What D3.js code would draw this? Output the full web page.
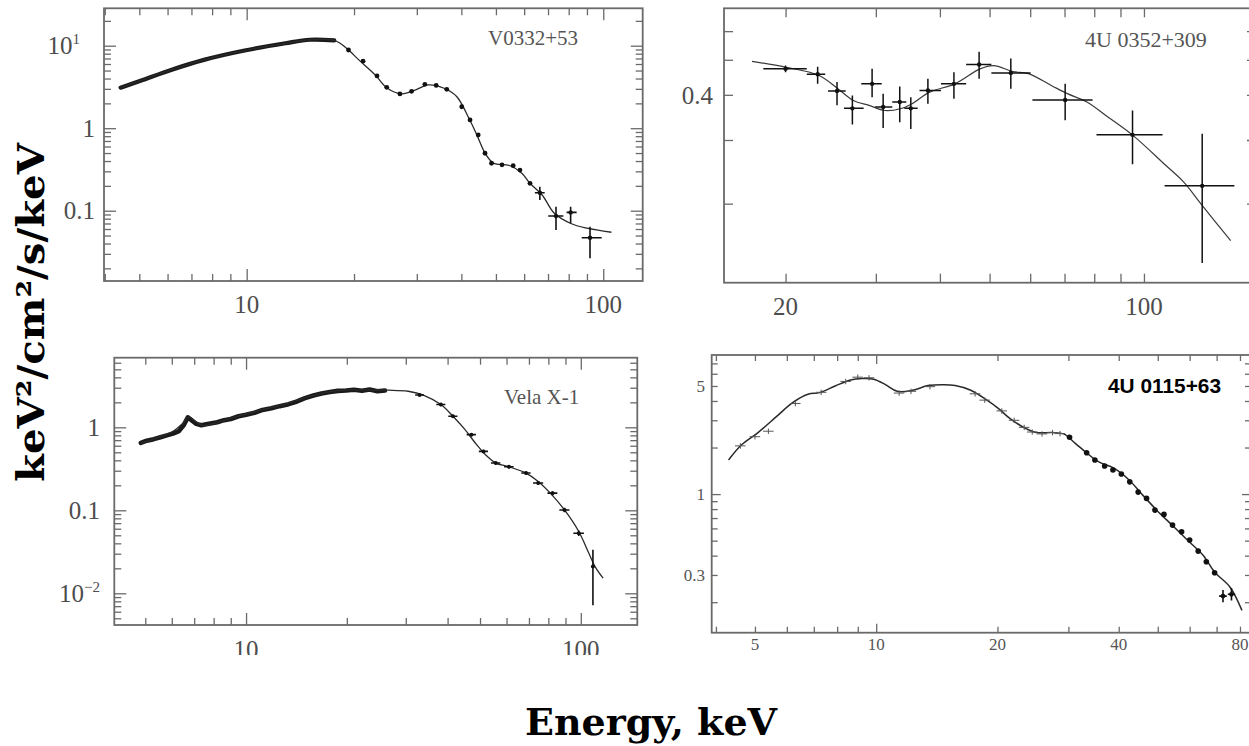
<!DOCTYPE html>
<html><head><meta charset="utf-8">
<script src="https://cdn.jsdelivr.net/npm/d3@7"></script>
<style>body{margin:0;background:#fff;} svg{display:block;}</style>
</head><body><svg id="c" width="1249" height="746"></svg>
<script>
// ---------------- DATA ----------------
// Panel 1: V0332+53
const v0332ModelE = [4.43, 5.11, 6.14, 7.59, 9.87, 12.84, 15.04, 17.61, 19.05, 20.63, 22.92, 24.8, 27.2, 29.8, 32.3, 35.8, 38.8, 42.0, 44.2, 46.6, 49.2, 54.6, 59.1, 62.3, 67.4, 72.9, 81.1, 90.0, 105.4];
const v0332ModelF = [3.1, 3.85, 5.09, 6.73, 8.73, 10.7, 11.8, 11.6, 9.33, 6.73, 4.43, 3.05, 2.61, 2.92, 3.35, 3.05, 2.42, 1.32, 0.83, 0.50, 0.377, 0.353, 0.285, 0.215, 0.155, 0.093, 0.070, 0.0614, 0.0548];
const v0332BandE = [4.43, 5.11, 6.14, 7.59, 9.87, 12.84, 15.04, 17.6];
const v0332BandF = [3.1, 3.85, 5.09, 6.73, 8.73, 10.7, 11.8, 11.6];
const v0332DotE = [19.3, 21.2, 23.2, 24.7, 26.9, 29.0, 31.6, 34.0, 36.4, 40.1, 42.3, 44.6, 46.6, 48.6, 52.0, 55.9, 58.4, 62.3];
const v0332DotF = [8.87, 6.5, 4.3, 3.13, 2.6, 2.8, 3.4, 3.3, 2.96, 1.82, 1.26, 0.83, 0.497, 0.376, 0.36, 0.351, 0.311, 0.215];
const v0332ErrE = [66.4, 73.7, 81.0, 91.8];
const v0332ErrF = [0.165, 0.0863, 0.0954, 0.0471];
const v0332ErrELo = [64.3, 70.1, 78.9, 87.0];
const v0332ErrEHi = [68.5, 77.3, 84.2, 99.0];
const v0332ErrFLo = [0.135, 0.0583, 0.0703, 0.0265];
const v0332ErrFHi = [0.195, 0.112, 0.112, 0.064];

// Panel 2: 4U 0352+309
const u0352ModelE = [17.2, 20, 23.2, 25.3, 27.1, 29.1, 31.2, 33.5, 35.3, 38.2, 42.8, 47.9, 50.9, 55.5, 59.5, 66.1, 70.9, 77.4, 84.4, 95.4, 109.7, 119.7, 129.4, 147.6];
const u0352ModelF = [0.495, 0.477, 0.453, 0.416, 0.386, 0.374, 0.362, 0.366, 0.378, 0.407, 0.429, 0.472, 0.482, 0.464, 0.458, 0.424, 0.403, 0.382, 0.350, 0.308, 0.257, 0.229, 0.199, 0.158];
const u0352ErrE = [20, 23.1, 25.2, 27.0, 29.5, 31.0, 33.4, 35.1, 37.9, 42.6, 47.7, 55.0, 70.2, 95.0, 129.9];
const u0352ErrF = [0.472, 0.456, 0.41, 0.367, 0.429, 0.370, 0.382, 0.367, 0.411, 0.429, 0.485, 0.460, 0.387, 0.310, 0.224];
const u0352ErrELo = [18.1, 22.0, 24.2, 26.0, 28.1, 29.9, 32.3, 34.1, 36.5, 40.2, 45.0, 50.4, 60.6, 80.8, 109.7];
const u0352ErrEHi = [22.0, 23.9, 26.2, 28.4, 30.8, 32.3, 34.4, 36.2, 40.2, 45.0, 50.4, 60.1, 79.4, 108.7, 150.1];
const u0352ErrFLo = [0.462, 0.429, 0.374, 0.331, 0.394, 0.324, 0.336, 0.322, 0.378, 0.390, 0.443, 0.416, 0.340, 0.257, 0.137];
const u0352ErrFHi = [0.482, 0.478, 0.434, 0.398, 0.472, 0.403, 0.422, 0.394, 0.443, 0.462, 0.526, 0.504, 0.429, 0.362, 0.312];

// Panel 3: Vela X-1
const velaModelE = [4.84, 5.41, 6.05, 6.49, 6.77, 7.06, 7.46, 8.23, 9.46, 11.18, 13.22, 15.2, 17.5, 20.1, 23.1, 26.6, 30.5, 34.1, 38.2, 41.5, 45.1, 48.4, 51.9, 55.7, 60.5, 68.6, 74.6, 81.1, 89.4, 98.6, 105.7, 110.3, 116.6];
const velaModelF = [0.647, 0.743, 0.895, 1.13, 1.33, 1.18, 1.05, 1.15, 1.36, 1.62, 1.92, 2.3, 2.65, 2.82, 2.80, 2.80, 2.72, 2.41, 1.88, 1.36, 0.937, 0.647, 0.468, 0.371, 0.338, 0.281, 0.223, 0.161, 0.101, 0.0555, 0.0304, 0.021, 0.0152];
const velaBandE = [4.85, 5.05, 5.3, 5.55, 5.8, 6.05, 6.3, 6.5, 6.7, 6.9, 7.1, 7.35, 7.6, 7.9, 8.2, 8.6, 9.0, 9.5, 10.0, 10.6, 11.2, 11.9, 12.6, 13.4, 14.2, 15.0, 15.9, 16.8, 17.8, 18.8, 19.9, 21.0, 22.2, 23.4, 24.7, 26.0];
const velaBandF = [0.65, 0.69, 0.72, 0.76, 0.80, 0.84, 0.90, 1.05, 1.32, 1.20, 1.10, 1.06, 1.09, 1.12, 1.15, 1.22, 1.26, 1.36, 1.42, 1.50, 1.62, 1.70, 1.80, 1.90, 2.05, 2.25, 2.42, 2.55, 2.66, 2.75, 2.78, 2.84, 2.76, 2.85, 2.72, 2.78];
const velaErrE = [33.0, 38.2, 41.5, 47.1, 51.2, 55.7, 61.0, 68.6, 74.6, 82.3, 89.4, 98.6, 108.7];
const velaErrF = [2.45, 1.88, 1.36, 0.816, 0.513, 0.371, 0.335, 0.281, 0.213, 0.161, 0.101, 0.053, 0.021];
const velaErrELo = [32.0, 37.0, 40.2, 45.6, 49.6, 53.9, 59.0, 66.4, 72.0, 79.5, 86.3, 95.0, 107.8];
const velaErrEHi = [34.0, 39.4, 42.8, 48.6, 52.8, 57.5, 63.0, 70.8, 77.2, 85.1, 92.5, 102.2, 109.6];
const velaErrFLo = [2.38, 1.80, 1.30, 0.78, 0.49, 0.355, 0.32, 0.268, 0.202, 0.152, 0.095, 0.049, 0.0072];
const velaErrFHi = [2.52, 1.96, 1.42, 0.85, 0.535, 0.388, 0.35, 0.294, 0.224, 0.170, 0.107, 0.057, 0.0334];

// Panel 4: 4U 0115+63
const u0115ModelE = [4.30, 4.64, 5.08, 5.67, 6.20, 6.77, 7.24, 7.91, 8.64, 9.23, 9.86, 10.54, 11.27, 12.31, 13.45, 14.70, 15.71, 17.17, 18.75, 20.05, 21.42, 23.41, 25.0, 27.32, 29.2, 31.2, 33.35, 35.6, 38.9, 42.5, 45.5, 49.7, 54.3, 59.3, 64.8, 69.2, 75.6, 80.9];
const u0115ModelF = [1.663, 2.09, 2.49, 3.19, 3.90, 4.42, 4.53, 5.00, 5.47, 5.58, 5.53, 5.10, 4.62, 4.69, 5.03, 5.10, 5.03, 4.69, 4.08, 3.60, 3.10, 2.67, 2.50, 2.50, 2.45, 2.13, 1.84, 1.62, 1.47, 1.23, 1.01, 0.787, 0.629, 0.503, 0.402, 0.313, 0.250, 0.177];
const u0115DotE = [30.2, 33.3, 34.9, 36.9, 38.7, 40.6, 42.6, 44.7, 46.9, 49.2, 51.8, 54.4, 57.3, 60.0, 63.0, 66.0, 69.2];
const u0115DotF = [2.33, 1.85, 1.66, 1.52, 1.43, 1.35, 1.20, 1.03, 0.938, 0.788, 0.739, 0.630, 0.571, 0.504, 0.428, 0.365, 0.310];
const u0115FaintE = [4.6, 5.0, 5.4, 6.3, 7.3, 8.4, 9.0, 9.6, 11.4, 12.2, 13.6, 17.6, 18.6, 20.5, 22.0, 23.3, 24.4, 25.8, 27.4, 28.6];
const u0115FaintF = [2.05, 2.35, 2.55, 3.85, 4.55, 5.35, 5.7, 5.65, 4.5, 4.62, 4.95, 4.45, 4.05, 3.45, 3.0, 2.7, 2.52, 2.45, 2.5, 2.46];
const u0115ErrE = [72.6, 76.2];
const u0115ErrF = [0.219, 0.225];
const u0115ErrELo = [71.0, 74.6];
const u0115ErrEHi = [74.2, 77.8];
const u0115ErrFLo = [0.200, 0.205];
const u0115ErrFHi = [0.240, 0.247];

// Tick labels
const p1XTicks = [10, 100], p1XText = ["10", "100"];
const p1YTicks = [10, 1, 0.1], p1YText = ["10", "1", "0.1"], p1YSup = ["1", "", ""];
const p2XTicks = [20, 100], p2XText = ["20", "100"];
const p2YTicks = [0.4], p2YText = ["0.4"], p2YSup = [""];
const p3XTicks = [10, 100], p3XText = ["10", "100"];
const p3YTicks = [1, 0.1, 0.01], p3YText = ["1", "0.1", "10"], p3YSup = ["", "", "\u22122"];
const p4XTicks = [5, 10, 20, 40, 80], p4XText = ["5", "10", "20", "40", "80"];
const p4YTicks = [5, 1, 0.3], p4YText = ["5", "1", "0.3"], p4YSup = ["", "", ""];

// ---------------- DRAWING ----------------
const svg = d3.select('#c');
const zip = (a, b) => a.map((v, i) => ({e: v, f: b[i]}));
const errs = (e, f, el, eh, fl, fh) => e.map((v, i) => ({e: v, f: f[i], el: el[i], eh: eh[i], fl: fl[i], fh: fh[i]}));

function logTicks(dom) {
  const out = [];
  for (let p = Math.floor(Math.log10(dom[0])) - 1; p <= Math.ceil(Math.log10(dom[1])); p++) {
    for (let k = 1; k <= 9; k++) {
      const v = +(k * Math.pow(10, p)).toPrecision(6);
      if (v > dom[0] * 1.001 && v < dom[1] / 1.001) out.push({v, major: k === 1});
    }
  }
  return out;
}

let clipId = 0;
function panel(cfg) {
  const x = d3.scaleLog().domain(cfg.xDom).range([cfg.l, cfg.r]);
  const y = d3.scaleLog().domain(cfg.yDom).range([cfg.b, cfg.t]);
  const g = svg.append('g');
  const id = 'clip' + (clipId++);
  svg.append('clipPath').attr('id', id).append('rect')
    .attr('x', cfg.l).attr('y', cfg.t).attr('width', cfg.r - cfg.l).attr('height', cfg.b - cfg.t);

  const xt = logTicks(cfg.xDom), yt = logTicks(cfg.yDom);
  const tickStyle = sel => { sel.select('.domain').remove(); sel.selectAll('line').attr('stroke', cfg.frameColor).attr('stroke-width', 1.3); };
  [[false, cfg.minor], [true, cfg.major]].forEach(([maj, len]) => {
    const xv = xt.filter(d => d.major === maj).map(d => d.v);
    const yv = yt.filter(d => d.major === maj).map(d => d.v);
    g.append('g').attr('transform', `translate(0,${cfg.b})`).call(d3.axisBottom(x).tickValues(xv).tickFormat('').tickSizeInner(-len).tickSizeOuter(0)).call(tickStyle);
    g.append('g').attr('transform', `translate(0,${cfg.t})`).call(d3.axisTop(x).tickValues(xv).tickFormat('').tickSizeInner(-len).tickSizeOuter(0)).call(tickStyle);
    g.append('g').attr('transform', `translate(${cfg.l},0)`).call(d3.axisLeft(y).tickValues(yv).tickFormat('').tickSizeInner(-len).tickSizeOuter(0)).call(tickStyle);
    g.append('g').attr('transform', `translate(${cfg.r},0)`).call(d3.axisRight(y).tickValues(yv).tickFormat('').tickSizeInner(-len).tickSizeOuter(0)).call(tickStyle);
  });
  g.append('rect').attr('x', cfg.l).attr('y', cfg.t).attr('width', cfg.r - cfg.l).attr('height', cfg.b - cfg.t)
    .attr('fill', 'none').attr('stroke', cfg.frameColor).attr('stroke-width', 1.8);

  const lg = g.append('g').attr('font-family', cfg.labelFont).attr('font-size', cfg.labelSize).attr('fill', cfg.labelColor);
  if (cfg.labelClip) {
    const cid = 'clip' + (clipId++);
    svg.append('clipPath').attr('id', cid).append('rect').attr('x', 0).attr('y', 0).attr('width', 1249).attr('height', cfg.labelClip);
    lg.attr('clip-path', `url(#${cid})`);
  }
  lg.selectAll('text.xl').data(cfg.xTicks.map((v, i) => ({v, t: cfg.xText[i]}))).join('text')
    .attr('class', 'xl').attr('x', d => x(d.v)).attr('y', cfg.xLabelY).attr('text-anchor', 'middle').text(d => d.t);
  const yl = lg.selectAll('text.yl').data(cfg.yTicks.map((v, i) => ({v, t: cfg.yText[i], s: cfg.ySup[i]}))).join('text')
    .attr('class', 'yl').attr('x', d => (d.s && cfg.supLabelX) ? cfg.supLabelX : cfg.yLabelX).attr('y', d => y(d.v)).attr('dy', '0.35em').attr('text-anchor', 'end');
  yl.each(function(d) {
    const t = d3.select(this);
    t.append('tspan').text(d.t);
    if (d.s) t.append('tspan').attr('dy', -cfg.labelSize * 0.42).attr('font-size', cfg.labelSize * 0.6).text(d.s);
  });

  const dg = g.append('g').attr('clip-path', `url(#${id})`);
  const line = d3.line().x(d => x(d.e)).y(d => y(d.f)).curve(d3.curveCatmullRom.alpha(0.5));
  const rough = d3.line().x(d => x(d.e)).y(d => y(d.f)).curve(d3.curveLinear);
  if (cfg.band) dg.append('path').datum(cfg.band).attr('d', cfg.bandRough ? rough : line).attr('fill', 'none')
    .attr('stroke', '#1a1a1a').attr('stroke-width', cfg.bandWidth).attr('stroke-linecap', 'round').attr('stroke-linejoin', 'round');
  dg.append('path').datum(cfg.model).attr('d', line).attr('fill', 'none').attr('stroke', cfg.lineColor).attr('stroke-width', cfg.lineWidth);
  if (cfg.faint) {
    const fg = dg.append('g').attr('stroke', '#555').attr('stroke-width', 1);
    fg.selectAll('line.fh').data(cfg.faint).join('line').attr('x1', d => x(d.e * 0.97)).attr('x2', d => x(d.e * 1.03)).attr('y1', d => y(d.f)).attr('y2', d => y(d.f));
    fg.selectAll('line.fv').data(cfg.faint).join('line').attr('x1', d => x(d.e)).attr('x2', d => x(d.e)).attr('y1', d => y(d.f * 0.96)).attr('y2', d => y(d.f * 1.04));
  }
  if (cfg.dots) dg.selectAll('circle.dot').data(cfg.dots).join('circle').attr('class', 'dot')
    .attr('cx', d => x(d.e)).attr('cy', d => y(d.f)).attr('r', cfg.dotR).attr('fill', '#111');
  if (cfg.errs) {
    const eg = dg.append('g').attr('stroke', '#111').attr('stroke-width', cfg.errWidth);
    eg.selectAll('line.h').data(cfg.errs).join('line').attr('x1', d => x(d.el)).attr('x2', d => x(d.eh)).attr('y1', d => y(d.f)).attr('y2', d => y(d.f));
    eg.selectAll('line.v').data(cfg.errs).join('line').attr('x1', d => x(d.e)).attr('x2', d => x(d.e)).attr('y1', d => y(d.fl)).attr('y2', d => y(d.fh));
    if (cfg.errDot) dg.selectAll('circle.ed').data(cfg.errs).join('circle').attr('class', 'ed')
      .attr('cx', d => x(d.e)).attr('cy', d => y(d.f)).attr('r', cfg.errDot).attr('fill', '#111');
  }

  const nt = g.append('text').attr('x', cfg.nameX).attr('y', cfg.nameY).attr('font-family', cfg.nameFont)
    .attr('font-size', cfg.nameSize).attr('font-weight', cfg.nameWeight).attr('fill', cfg.nameColor).text(cfg.name);
  if (cfg.nameLen) nt.attr('textLength', cfg.nameLen).attr('lengthAdjust', 'spacingAndGlyphs');
}

const serif = "'Liberation Serif', 'Times New Roman', serif";
const common = {frameColor: '#6a6a6a', labelFont: serif, labelColor: '#4d4d4d', nameFont: serif, nameWeight: 'normal', nameColor: '#555', lineColor: '#2a2a2a', lineWidth: 1.3, dotR: 2.4, errWidth: 1.6};

panel(Object.assign({}, common, {
  l: 104, r: 642.7, t: 8.3, b: 281, xDom: [3.98, 129], yDom: [0.01406, 28.4], major: 12, minor: 7,
  labelSize: 25, xTicks: p1XTicks, xText: p1XText, yTicks: p1YTicks, yText: p1YText, ySup: p1YSup, xLabelY: 313, yLabelX: 95, supLabelX: 80,
  model: zip(v0332ModelE, v0332ModelF), band: zip(v0332BandE, v0332BandF), bandWidth: 4.2,
  dots: zip(v0332DotE, v0332DotF),
  errs: errs(v0332ErrE, v0332ErrF, v0332ErrELo, v0332ErrEHi, v0332ErrFLo, v0332ErrFHi), errDot: 2.2,
  name: 'V0332+53', nameX: 488, nameY: 45, nameSize: 21
}));

panel(Object.assign({}, common, {
  l: 724, r: 1256, t: 8.3, b: 282.7, xDom: [15.17, 165.4], yDom: [0.1209, 0.694], major: 9, minor: 9,
  labelSize: 25, xTicks: p2XTicks, xText: p2XText, yTicks: p2YTicks, yText: p2YText, ySup: p2YSup, xLabelY: 315, yLabelX: 713,
  model: zip(u0352ModelE, u0352ModelF), lineColor: '#3a3a3a', lineWidth: 1.2,
  errs: errs(u0352ErrE, u0352ErrF, u0352ErrELo, u0352ErrEHi, u0352ErrFLo, u0352ErrFHi), errDot: 2.2, errWidth: 1.5,
  name: '4U 0352+309', nameX: 1085, nameY: 47, nameSize: 22
}));

panel(Object.assign({}, common, {
  l: 114.3, r: 637.3, t: 357.7, b: 625, xDom: [4.04, 147.5], yDom: [0.00415, 6.9], major: 12, minor: 7,
  labelSize: 25, xTicks: p3XTicks, xText: p3XText, yTicks: p3YTicks, yText: p3YText, ySup: p3YSup, xLabelY: 658, yLabelX: 100, labelClip: 655,
  model: zip(velaModelE, velaModelF), band: zip(velaBandE, velaBandF), bandWidth: 4.6, bandRough: true,
  errs: errs(velaErrE, velaErrF, velaErrELo, velaErrEHi, velaErrFLo, velaErrFHi), errDot: 2,
  name: 'Vela X-1', nameX: 504, nameY: 404, nameSize: 21
}));

panel(Object.assign({}, common, {
  l: 711.7, r: 1251, t: 355, b: 632.7, xDom: [3.905, 85.2], yDom: [0.127, 7.93], major: 9, minor: 6,
  labelSize: 17, labelColor: '#555', xTicks: p4XTicks, xText: p4XText, yTicks: p4YTicks, yText: p4YText, ySup: p4YSup, xLabelY: 650, yLabelX: 705,
  model: zip(u0115ModelE, u0115ModelF), lineWidth: 1.5,
  faint: zip(u0115FaintE, u0115FaintF),
  dots: zip(u0115DotE, u0115DotF), dotR: 2.8,
  errs: errs(u0115ErrE, u0115ErrF, u0115ErrELo, u0115ErrEHi, u0115ErrFLo, u0115ErrFHi), errDot: 2.4,
  name: '4U 0115+63', nameX: 1108, nameY: 393, nameSize: 20, nameLen: 113,
  nameFont: "'Liberation Sans', Arial, sans-serif", nameWeight: 'bold', nameColor: '#000'
}));

const titleFont = "'DejaVu Serif', Georgia, serif";
svg.append('text').attr('transform', 'translate(44,312.5) rotate(-90)').attr('text-anchor', 'middle')
  .attr('font-family', titleFont).attr('font-weight', 'bold').attr('font-size', 38).attr('fill', '#000')
  .attr('textLength', 339).attr('lengthAdjust', 'spacingAndGlyphs').text('keV\u00B2/cm\u00B2/s/keV');
svg.append('text').attr('x', 651).attr('y', 735).attr('text-anchor', 'middle')
  .attr('font-family', titleFont).attr('font-weight', 'bold').attr('font-size', 37).attr('fill', '#000')
  .attr('textLength', 252).attr('lengthAdjust', 'spacingAndGlyphs').text('Energy, keV');
</script>
</body></html>
